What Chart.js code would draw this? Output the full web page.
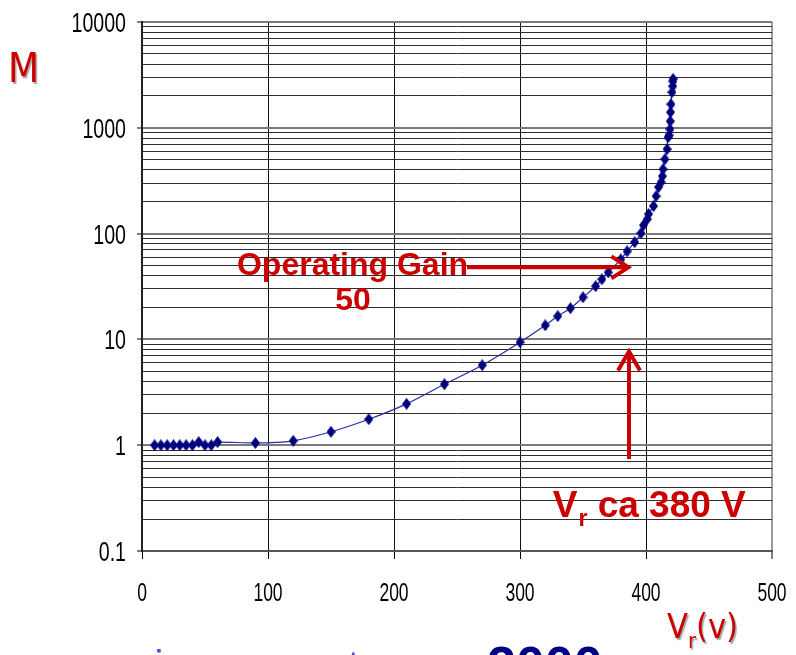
<!DOCTYPE html>
<html>
<head>
<meta charset="utf-8">
<script src="https://cdn.jsdelivr.net/npm/chart.js@4.4.1/dist/chart.umd.min.js"></script>
<style>
  html,body{margin:0;padding:0;background:#fff;overflow:hidden;width:796px;height:655px;}
  #c{position:absolute;left:0;top:0;}
</style>
</head>
<body>
<canvas id="c" width="796" height="655"></canvas>
<script>
// ---- data ----
const voltage = [10,15,20,25,30,35,40,45,50,55,60,90,120,150,180,210,240,270,300,320,330,340,350,360,365,370,380,385,391,396,398,401,402,406,408,410,412,413,413.5,415,416.7,417.5,418.3,419,419.2,419.4,419.8,420.6,421.2,421.4,421.5];
const gain    = [1,1,1,1,1,1,1,1.07,1,1,1.07,1.05,1.1,1.34,1.76,2.46,3.77,5.7,9.4,13.6,16.6,19.7,25,31.8,37,43,57,68,83,101,120,137,153,182,226,275,306,349,406,505,628,815,851,970,1154,1403,1670,2170,2472,2755,2900];
const xTickValues = [0,100,200,300,400,500];
const yTickLabels = [0.1,1,10,100,1000,10000];
const yMinorFactors = [2,3,4,5,6,7,8,9];

// diamond marker
function diamond(w,h,color){
  const c=document.createElement('canvas');c.width=w;c.height=h;
  const g=c.getContext('2d');g.fillStyle=color;g.beginPath();
  g.moveTo(w/2,0);g.lineTo(w,h/2);g.lineTo(w/2,h);g.lineTo(0,h/2);g.closePath();g.fill();
  return c;
}
const marker = diamond(9,12,'#00007f');

const RED = '#cc0000';
const LABEL_FONT = '"Liberation Sans", Arial, sans-serif';
const SQUEEZE = 0.7;

// tick labels drawn from the chart's own scales, horizontally condensed like the original
const tickLabels = {
  id:'tickLabels',
  afterDraw(chart){
    const {ctx, scales:{x,y}} = chart;
    ctx.save();
    ctx.fillStyle = '#000';
    ctx.textBaseline = 'alphabetic';
    ctx.font = '28px ' + LABEL_FONT;
    yTickLabels.forEach(v=>{
      const py = y.getPixelForValue(v);
      const s = String(v);
      const w = ctx.measureText(s).width * SQUEEZE;
      ctx.save();
      ctx.translate(126 - w, py + 10);
      ctx.scale(SQUEEZE, 1);
      ctx.textAlign = 'left';
      ctx.fillText(s, 0, 0);
      ctx.restore();
    });
    ctx.font = '25px ' + LABEL_FONT;
    xTickValues.forEach(v=>{
      const px = x.getPixelForValue(v);
      const s = String(v);
      ctx.save();
      ctx.translate(px, 601);
      ctx.scale(SQUEEZE, 1);
      ctx.textAlign = 'center';
      ctx.fillText(s, 0, 0);
      ctx.restore();
    });
    ctx.restore();
  }
};

const annot = {
  id:'annot',
  afterDraw(chart){
    const {ctx, scales:{x,y}} = chart;
    ctx.save();
    ctx.fillStyle = RED; ctx.strokeStyle = RED;
    ctx.lineWidth = 4; ctx.lineCap='butt'; ctx.lineJoin='miter';
    // Operating gain arrow (horizontal)
    const ay = y.getPixelForValue(48);
    const ax0 = x.getPixelForValue(258), ax1 = x.getPixelForValue(386);
    ctx.beginPath(); ctx.moveTo(ax0, ay); ctx.lineTo(ax1-2, ay); ctx.stroke();
    ctx.beginPath(); ctx.moveTo(ax1-17, ay-11); ctx.lineTo(ax1, ay); ctx.lineTo(ax1-17, ay+11); ctx.stroke();
    ctx.font = 'bold 32px ' + LABEL_FONT;
    ctx.textBaseline='alphabetic'; ctx.textAlign='right';
    ctx.fillText('Operating Gain', ax0+1, ay+8);
    ctx.textAlign='center';
    ctx.fillText('50', x.getPixelForValue(167.5), ay+43);
    // vertical arrow
    const vx = x.getPixelForValue(386.5);
    const vy0 = y.getPixelForValue(0.74), vy1 = y.getPixelForValue(7.7);
    ctx.beginPath(); ctx.moveTo(vx, vy0); ctx.lineTo(vx, vy1+2); ctx.stroke();
    ctx.beginPath(); ctx.moveTo(vx-11, vy1+19); ctx.lineTo(vx, vy1); ctx.lineTo(vx+11, vy1+19); ctx.stroke();
    // Vr ca 380 V
    ctx.textAlign='left';
    let tx = x.getPixelForValue(326); const tb = y.getPixelForValue(0.209);
    ctx.font = 'bold 37px ' + LABEL_FONT;
    ctx.fillText('V', tx, tb); tx += ctx.measureText('V').width + 1;
    ctx.font = 'bold 23px ' + LABEL_FONT;
    ctx.fillText('r', tx, tb+9); tx += ctx.measureText('r').width;
    ctx.font = 'bold 37px ' + LABEL_FONT;
    ctx.fillText(' ca 380 V', tx, tb);
    // axis titles
    ctx.shadowColor='rgba(0,0,0,0.35)'; ctx.shadowOffsetX=1.5; ctx.shadowOffsetY=1.5; ctx.shadowBlur=1;
    ctx.font = '40px "DejaVu Sans Condensed", "DejaVu Sans", sans-serif';
    ctx.fillText('M', 8, 82);
    let vxp = 667;
    ctx.font = '34px "DejaVu Sans Condensed", "DejaVu Sans", sans-serif';
    ctx.fillText('V', vxp, 638); vxp += ctx.measureText('V').width;
    ctx.font = '22px "DejaVu Sans Condensed", "DejaVu Sans", sans-serif';
    ctx.fillText('r', vxp, 648); vxp += ctx.measureText('r').width;
    ctx.font = '34px "DejaVu Sans Condensed", "DejaVu Sans", sans-serif';
    ctx.fillText('(v)', vxp, 638);
    ctx.shadowColor='transparent';
    // cut-off slide text at the bottom
    ctx.font = '40px ' + LABEL_FONT;
    ctx.fillStyle = '#4a4ae0';
    ctx.fillText('gains can go to over ', 110, 679);
    ctx.font = 'bold 52px ' + LABEL_FONT;
    ctx.fillStyle = '#000080';
    ctx.fillText('2000', 487, 683);
    ctx.restore();
  }
};

new Chart(document.getElementById('c'), {
  type:'scatter',
  data:{datasets:[{
    data: voltage.map((v,i)=>({x:v, y:gain[i]})),
    showLine:true,
    borderColor:'#2b2ba8',
    borderWidth:1.2,
    cubicInterpolationMode:'monotone',
    pointStyle: marker,
    pointRadius:5,
    pointBackgroundColor:'#00007f',
    pointBorderColor:'#00007f'
  }]},
  options:{
    responsive:false, animation:false,
    layout:{padding:{left:0, top:22, right:24, bottom:0}},
    plugins:{legend:{display:false}, tooltip:{enabled:false}},
    scales:{
      x:{
        type:'linear', min:0, max:500,
        afterBuildTicks:(s)=>{ s.ticks = xTickValues.map(v=>({value:v})); },
        afterFit:(s)=>{ s.height = 104; },
        ticks:{display:false},
        grid:{
          color:(c)=> (c.tick && c.tick.value===500) ? '#999' : '#111',
          lineWidth:(c)=> (c.tick && c.tick.value===500) ? 2 : 1,
          tickLength:8, tickColor:'#000', tickWidth:1
        },
        border:{color:'#555', width:2}
      },
      y:{
        type:'logarithmic', min:0.1, max:10000,
        afterBuildTicks:(s)=>{
          const t=[];
          for(let i=0;i<yTickLabels.length-1;i++){
            const d=yTickLabels[i];
            t.push({value:d, major:true});
            yMinorFactors.forEach(f=>t.push({value:Number((d*f).toPrecision(6)), major:false}));
          }
          t.push({value:yTickLabels[yTickLabels.length-1], major:true});
          s.ticks=t;
        },
        afterFit:(s)=>{ s.width = 142; },
        ticks:{display:false},
        grid:{
          color:(c)=> (c.tick && yTickLabels.includes(c.tick.value)) ? '#7a7a7a' : '#2e2e2e',
          lineWidth:(c)=> (c.tick && yTickLabels.includes(c.tick.value)) ? 2 : 1,
          tickLength:5,
          tickColor:(c)=> (c.tick && yTickLabels.includes(c.tick.value)) ? '#000' : 'rgba(0,0,0,0)',
          tickWidth:1
        },
        border:{color:'#222', width:2}
      }
    }
  },
  plugins:[tickLabels, annot]
});
</script>
</body>
</html>
